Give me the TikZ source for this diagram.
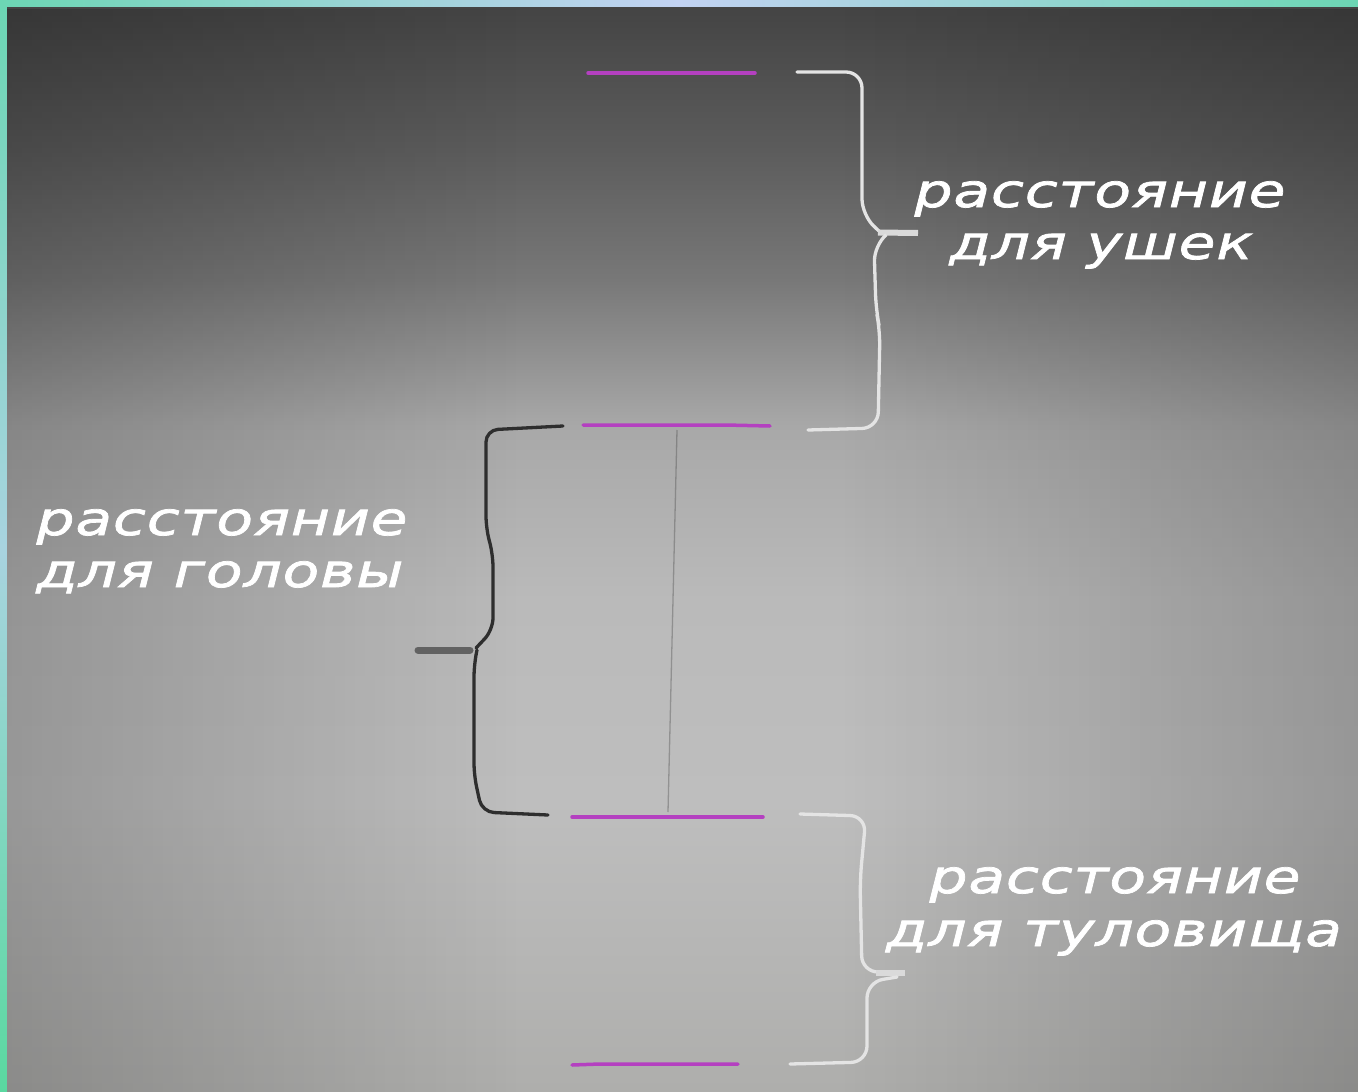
\documentclass[tikz,border=0pt]{standalone}
\usepackage{fontspec}
\newfontfamily\notefont[FakeStretch=1.3,LetterSpace=2,FakeBold=1.6]{DejaVu Sans}
\usetikzlibrary{fadings}
\definecolor{frameteal}{HTML}{6CD6B4}
\definecolor{frameblue}{HTML}{C2D2F2}
\definecolor{framegreen}{HTML}{5AD8A0}
\definecolor{paperA}{HTML}{444444}
\definecolor{paperB}{HTML}{5C5C5C}
\definecolor{paperC}{HTML}{787878}
\definecolor{paperD}{HTML}{A8A8A8}
\definecolor{paperE}{HTML}{BABABA}
\definecolor{paperF}{HTML}{BEBEBE}
\definecolor{paperG}{HTML}{AEAEAC}
\definecolor{markmag}{HTML}{B440C0}
\definecolor{chalk}{HTML}{E4E4E4}
\definecolor{pencil}{HTML}{2E2E2E}

\begin{document}
\begin{tikzpicture}[x=1pt,y=-1pt,
  markline/.style={draw=markmag,line width=3.5pt,line cap=round},
  chalkbrace/.style={draw=chalk,line width=3.3pt,rounded corners=16pt,line cap=round},
  chalktip/.style={draw=chalk!90!gray,line width=6pt},
  inkbrace/.style={draw=pencil,line width=3.3pt,rounded corners=12pt,line cap=round},
  inktip/.style={draw=pencil!75,line width=7pt,line cap=round},
  note/.style={text=white,font=\notefont\itshape\fontsize{46}{50}\selectfont,anchor=base,inner sep=0pt}]
\useasboundingbox (0,0) rectangle (1358,1092);

% frame
\fill[left color=frameteal,right color=frameteal,middle color=frameblue] (0,0) rectangle (1358,7);
\fill[top color=frameteal,bottom color=framegreen,middle color=frameblue!70!frameteal] (0,7) rectangle (7,1092);

% paper
\fill[top color=paperA,bottom color=paperB] (7,7) rectangle (1358,150.5);
\fill[top color=paperB,bottom color=paperC] (7,150) rectangle (1358,280.5);
\fill[top color=paperC,bottom color=paperD] (7,280) rectangle (1358,425.5);
\fill[top color=paperD,bottom color=paperE] (7,425) rectangle (1358,600.5);
\fill[top color=paperE,bottom color=paperF] (7,600) rectangle (1358,800.5);
\fill[top color=paperF,bottom color=paperG] (7,800) rectangle (1358,1092);
\fill[black,fill opacity=0.2,path fading=east] (7,7) rectangle (520,1092);
\fill[black,fill opacity=0.2,path fading=west] (840,7) rectangle (1358,1092);

% pencil guide
\coordinate (guidetop) at (677,430);
\coordinate (guidebot) at (668,812);
\draw[pencil,line width=1.3pt,opacity=0.3] (guidetop) -- (guidebot);

% marks
\coordinate (m1l) at (588,73);  \coordinate (m1r) at (755,73);
\coordinate (m2l) at (583,425); \coordinate (m2r) at (770,426);
\coordinate (m3l) at (572,817); \coordinate (m3r) at (763,817);
\coordinate (m4l) at (572,1065); \coordinate (m4r) at (738,1064);
\draw[markline] (m1l) -- (m1r);
\draw[markline] (m2l) -- (725,425) -- (m2r);
\draw[markline] (m3l) -- (m3r);
\draw[markline] (m4l) -- (600,1064) -- (m4r);

% ears brace
\coordinate (earstop) at (797,72);
\coordinate (earsbot) at (808,430);
\coordinate (earstip) at (918,233);
\draw[chalkbrace] (earstop) -- (862,72) -- (862,215) -- (880,232);
\draw[chalktip] (878,232.5) -- (earstip);
\draw[chalkbrace] (886,235) -- (874,245) -- (876,310) -- (880,330) -- (878,428) -- (earsbot);

% head brace
\coordinate (headtop) at (563,426);
\coordinate (headbot) at (548,815);
\coordinate (headtip) at (418,650);
\draw[inkbrace] (headtop) -- (486,430) -- (486,528) -- (493,555) -- (493,630) -- (476,648);
\draw[inktip] (headtip) -- (470,650);
\draw[inkbrace] (477,650) -- (474,665) -- (474,775) -- (482,812) -- (headbot);

% body brace
\coordinate (bodytop) at (800,814);
\coordinate (bodybot) at (790,1064);
\coordinate (bodytip) at (905,973);
\draw[chalkbrace] (bodytop) -- (866,816) -- (860,880) -- (862,972) -- (880,972);
\draw[chalktip] (876,973) -- (bodytip);
\draw[chalkbrace] (897,977) -- (867,982) -- (867,1062) -- (bodybot);

% labels
\node[note] (ears1) at (1100,207) {расстояние};
\node[note] (ears2) at (1101,259) {для ушек};
\node[note] (head1) at (222,535) {расстояние};
\node[note] (head2) at (220,587) {для головы};
\node[note] (body1) at (1115,893) {расстояние};
\node[note] (body2) at (1114,946) {для туловища};
\end{tikzpicture}
\end{document}
